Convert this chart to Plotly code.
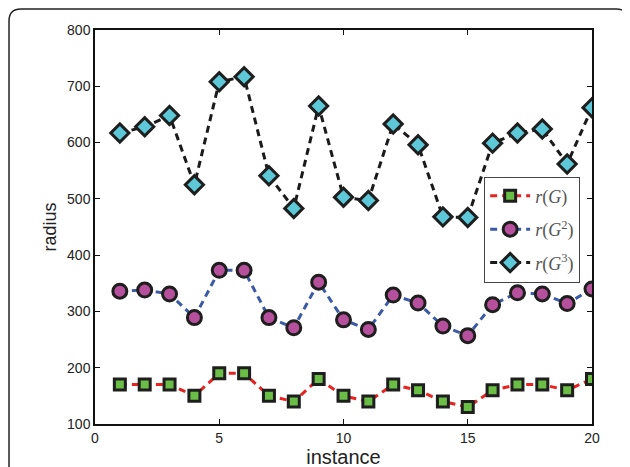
import plotly.graph_objects as go

instance = list(range(1, 21))
r_g = [170, 170, 170, 150, 190, 190, 150, 140, 180, 150, 140, 170, 160, 140, 130, 160, 170, 170, 160, 180]
r_g2 = [336, 338, 331, 289, 373, 373, 289, 271, 352, 285, 268, 329, 315, 274, 257, 312, 333, 331, 314, 340]
r_g3 = [617, 628, 648, 525, 708, 717, 541, 483, 665, 503, 497, 633, 596, 468, 467, 599, 617, 624, 562, 662]

x_ticks = [0, 5, 10, 15, 20]
y_ticks = [100, 200, 300, 400, 500, 600, 700, 800]

fig = go.Figure()
series = [
    (r_g, "<i>r</i>(<i>G</i>)", "#e8231f", "square", "#6abd45", 11, "a"),
    (r_g2, "<i>r</i>(<i>G</i><sup>2</sup>)", "#3b5aa6", "circle", "#b6509c", 14, "b"),
    (r_g3, "<i>r</i>(<i>G</i><sup>3</sup>)", "#1a1a1a", "diamond", "#5cc8d8", 14, "c"),
]
for ys, name, lc, sym, mc, ms, grp in series:
    fig.add_trace(go.Scatter(
        x=instance, y=ys, name=name, mode="lines+markers", legendgroup=grp,
        line=dict(color=lc, width=3, dash="7px,5px"),
        marker=dict(symbol=sym, size=ms, color=mc, line=dict(color="#1e1e1e", width=3)),
    ))

# outer rounded frame
x0, x1 = -0.173, 1.0724
y0, y1 = -0.2, 1.0533
rx, ry = 0.024, 0.03
path = (f"M {x0} {y0} L {x0} {y1-ry} Q {x0} {y1} {x0+rx} {y1} "
        f"L {x1-rx} {y1} Q {x1} {y1} {x1} {y1-ry} L {x1} {y0}")
fig.add_shape(type="path", path=path, xref="paper", yref="paper",
              line=dict(color="#222", width=1.5))

axis_common = dict(showgrid=False, zeroline=False, showline=True, linecolor="#111",
                   linewidth=1.5, mirror="ticks", ticks="inside", ticklen=5,
                   tickcolor="#111", tickfont=dict(family="Liberation Sans, Arial", size=14, color="#222"))
fig.update_xaxes(range=[0, 20], tickvals=x_ticks, title=dict(text="instance", standoff=0,
                 font=dict(family="Liberation Sans, Arial", size=20, color="#222")), **axis_common)
fig.update_yaxes(range=[100, 800], tickvals=y_ticks, title=dict(text="radius", standoff=6,
                 font=dict(family="Liberation Sans, Arial", size=18, color="#222")), **axis_common)

fig.update_layout(
    width=630, height=467,
    margin=dict(l=87, r=46, t=22, b=51),
    plot_bgcolor="white", paper_bgcolor="white",
    legend=dict(x=0.783, y=0.628, xanchor="left", yanchor="top",
                bgcolor="white", bordercolor="#444", borderwidth=1,
                font=dict(family="Liberation Serif, DejaVu Serif", size=18, color="#555"),
                itemwidth=40, tracegroupgap=7),
    showlegend=True,
)
fig.write_html("out.html")
